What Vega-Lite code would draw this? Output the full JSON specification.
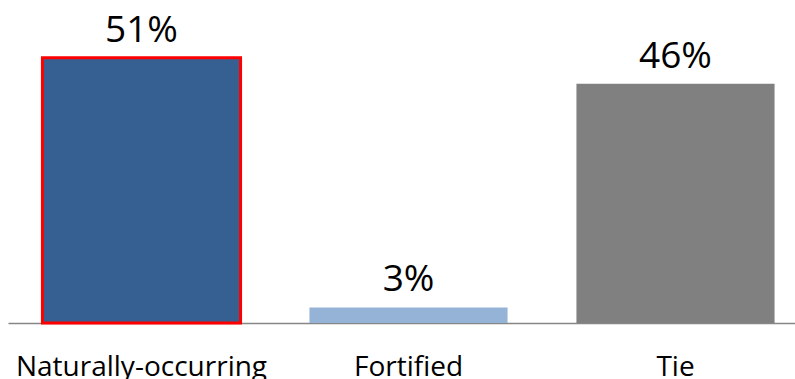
{
  "$schema": "https://vega.github.io/schema/vega-lite/v6.json",
  "autosize": {"type": "none"},
  "padding": {"left": 8, "top": 11, "right": 0, "bottom": 56},
  "width": 801,
  "height": 312,
  "background": "white",
  "config": {"view": {"stroke": null}, "font": "Open Sans"},
  "data": {
    "values": [
      {"category": "Naturally-occurring", "share": 51, "label": "51%", "highlight": true},
      {"category": "Fortified", "share": 3, "label": "3%", "highlight": false},
      {"category": "Tie", "share": 46, "label": "46%", "highlight": false}
    ]
  },
  "encoding": {
    "x": {
      "field": "category",
      "type": "nominal",
      "sort": null,
      "scale": {"paddingInner": 0.258, "paddingOuter": 0.129},
      "axis": {
        "title": null,
        "labelAngle": 0,
        "labelFont": "Open Sans",
        "labelFontSize": 28,
        "labelColor": "#000000",
        "labelPadding": 30,
        "labelLimit": 0,
        "labelOverlap": false,
        "ticks": false,
        "domainColor": "#868686",
        "domainWidth": 1.5
      }
    },
    "y": {
      "field": "share",
      "type": "quantitative",
      "scale": {"domain": [0, 60], "nice": false},
      "axis": null
    }
  },
  "layer": [
    {
      "mark": {"type": "bar"},
      "encoding": {
        "color": {
          "field": "category",
          "type": "nominal",
          "scale": {
            "domain": ["Naturally-occurring", "Fortified", "Tie"],
            "range": ["#376092", "#95B3D7", "#808080"]
          },
          "legend": null
        },
        "stroke": {
          "field": "highlight",
          "type": "nominal",
          "scale": {"domain": [true, false], "range": ["#FF0000", "transparent"]},
          "legend": null
        },
        "strokeWidth": {"value": 3}
      }
    },
    {
      "mark": {"type": "text", "baseline": "alphabetic", "dy": -16, "fontSize": 37, "font": "Open Sans", "color": "#000000"},
      "encoding": {"text": {"field": "label"}}
    }
  ]
}
